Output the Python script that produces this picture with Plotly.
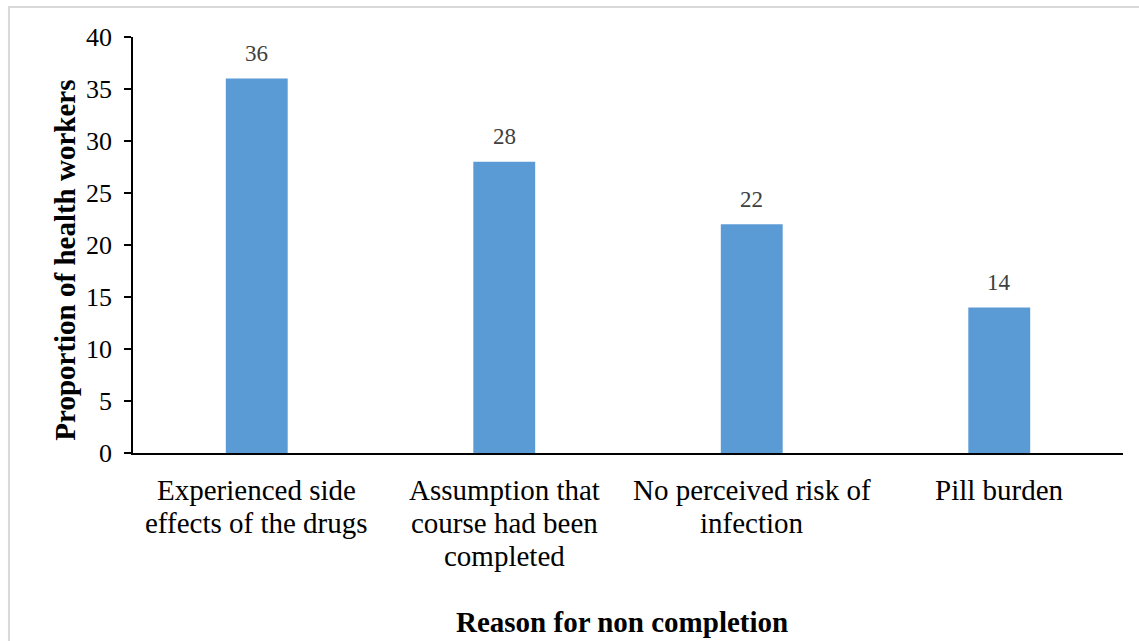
import plotly.graph_objects as go

# Reasons for not completing the course and share of health workers
reasons = [
    "Experienced side effects of the drugs",
    "Assumption that course had been completed",
    "No perceived risk of infection",
    "Pill burden",
]
reason_lines = [
    ["Experienced side", "effects of the drugs"],
    ["Assumption that", "course had been", "completed"],
    ["No perceived risk of", "infection"],
    ["Pill burden"],
]
proportions = [36, 28, 22, 14]
y_ticks = [0, 5, 10, 15, 20, 25, 30, 35, 40]

serif = "Liberation Serif, Times New Roman, serif"

fig = go.Figure()
fig.add_trace(go.Bar(
    x=reasons,
    y=proportions,
    marker=dict(color="#5B9BD5", line=dict(width=0)),
    cliponaxis=False,
    hoverinfo="x+y",
))

# Value labels above each bar
for cat, val in zip(reasons, proportions):
    fig.add_annotation(
        x=cat, y=val, xref="x", yref="y",
        text=str(val), showarrow=False,
        xanchor="center", yanchor="middle", yshift=25,
        font=dict(family=serif, size=23, color="#404040"),
    )

# Category labels, one annotation per line for tighter line spacing
for cat, lines in zip(reasons, reason_lines):
    for i, line in enumerate(lines):
        fig.add_annotation(
            x=cat, y=0, xref="x", yref="paper",
            text=line, showarrow=False,
            xanchor="center", yanchor="middle",
            yshift=-37 - 33 * i,
            font=dict(family=serif, size=29, color="black"),
        )

fig.update_layout(
    width=1139,
    height=641,
    margin=dict(l=133, r=16, t=37, b=188),
    paper_bgcolor="white",
    plot_bgcolor="white",
    bargap=0.75,
    showlegend=False,
    font=dict(family=serif, color="black"),
)

fig.update_yaxes(
    range=[0, 40],
    tickvals=y_ticks,
    ticks="outside",
    ticklen=7,
    tickcolor="black",
    tickwidth=1.5,
    showline=True,
    linecolor="black",
    linewidth=1.5,
    showgrid=False,
    zeroline=False,
    tickfont=dict(family=serif, size=26, color="black"),
    ticklabelstandoff=7,
)
fig.update_xaxes(
    showline=True,
    linecolor="black",
    linewidth=1.5,
    ticks="",
    showgrid=False,
    showticklabels=False,
)

# Axis titles
fig.add_annotation(
    text="<b>Proportion of health workers</b>",
    xref="paper", yref="paper",
    x=-0.069, y=0.464,
    xanchor="center", yanchor="middle",
    textangle=-90,
    showarrow=False,
    font=dict(family=serif, size=29, color="black"),
)
fig.add_annotation(
    text="<b>Reason for non completion</b>",
    xref="paper", yref="paper",
    x=0.494, y=-0.406,
    xanchor="center", yanchor="middle",
    showarrow=False,
    font=dict(family=serif, size=29, color="black"),
)

# Light frame around the chart
fig.add_shape(
    type="rect",
    xref="paper", yref="paper",
    x0=-0.1253, y0=-0.6, x1=1.05, y1=1.072,
    line=dict(color="#D9D9D9", width=2),
    fillcolor="rgba(0,0,0,0)",
    layer="below",
)

fig.write_html("out.html")
